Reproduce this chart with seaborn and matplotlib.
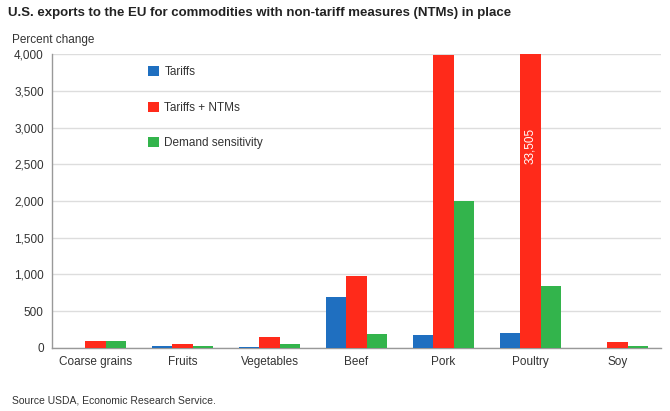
import pandas as pd
import numpy as np
import matplotlib.pyplot as plt
import seaborn as sns
from matplotlib.ticker import FuncFormatter, FixedLocator

categories = ["Coarse grains", "Fruits", "Vegetables", "Beef", "Pork", "Poultry", "Soy"]
tariffs = [2, 25, 15, 690, 180, 200, 5]
tariffs_ntms = [95, 60, 150, 975, 3980, 33505, 80]
demand_sens = [90, 25, 50, 185, 2000, 850, 25]
series_names = ["Tariffs", "Tariffs + NTMs", "Demand sensitivity"]
colors = ["#1f6fc0", "#ff2a1a", "#33b44c"]

df = pd.DataFrame({
    "cat": categories * 3,
    "series": np.repeat(series_names, len(categories)),
    "value": tariffs + tariffs_ntms + demand_sens,
})

sns.set_style("white")
plt.rcParams["font.family"] = ["Liberation Sans", "DejaVu Sans"]

fig = plt.figure(figsize=(6.7, 4.11), dpi=100)
ax = fig.add_axes([0.0776, 0.1533, 0.909, 0.7153])

sns.barplot(data=df, x="cat", y="value", hue="series", order=categories,
            hue_order=series_names, palette=colors, width=0.7, saturation=1,
            linewidth=0, ax=ax, zorder=3)

ax.set_ylim(0, 4000)
ax.set_xlim(-0.5, len(categories) - 0.5)
ax.set_yticks(np.arange(0, 4001, 500))
ax.yaxis.set_major_formatter(FuncFormatter(lambda v, p: f"{int(v):,}"))
ax.grid(axis="y", color="#dddddd", linewidth=1, zorder=0)
ax.set_axisbelow(True)

for s in ["top", "right"]:
    ax.spines[s].set_visible(False)
for s in ["left", "bottom"]:
    ax.spines[s].set_color("#999999")
    ax.spines[s].set_linewidth(1)

ax.tick_params(axis="y", length=4, color="#999999", labelsize=8.5, labelcolor="#333333", pad=2)
ax.tick_params(axis="x", which="major", length=0, labelsize=8.5, labelcolor="#333333", pad=6)
ax.xaxis.set_minor_locator(FixedLocator(np.arange(-0.5, len(categories), 1)))
ax.tick_params(axis="x", which="minor", length=5, color="#999999")
ax.set_xlabel("")
ax.set_ylabel("")

# label for the clipped Poultry bar
pi = categories.index("Poultry")
ax.text(pi, 2750, f"{tariffs_ntms[pi]:,}", rotation=90, color="white",
        ha="center", va="center", fontsize=8.5, zorder=5)

handles, labels = ax.get_legend_handles_labels()
ax.legend(handles, labels, loc="upper left", bbox_to_anchor=(0.14, 0.995),
          frameon=False, fontsize=8.5, handlelength=0.9, handleheight=0.9,
          labelspacing=2.0, handletextpad=0.5, labelcolor="#333333")

fig.text(0.012, 0.968, "U.S. exports to the EU for commodities with non-tariff measures (NTMs) in place",
         fontsize=9.5, fontweight="bold", color="#222222", ha="left", va="center")
fig.text(0.018, 0.902, "Percent change", fontsize=8.5, color="#333333", ha="left", va="center")
fig.text(0.018, 0.025, "Source USDA, Economic Research Service.", fontsize=7.5, color="#333333",
         ha="left", va="center")

plt.savefig("out.png", dpi=100)
